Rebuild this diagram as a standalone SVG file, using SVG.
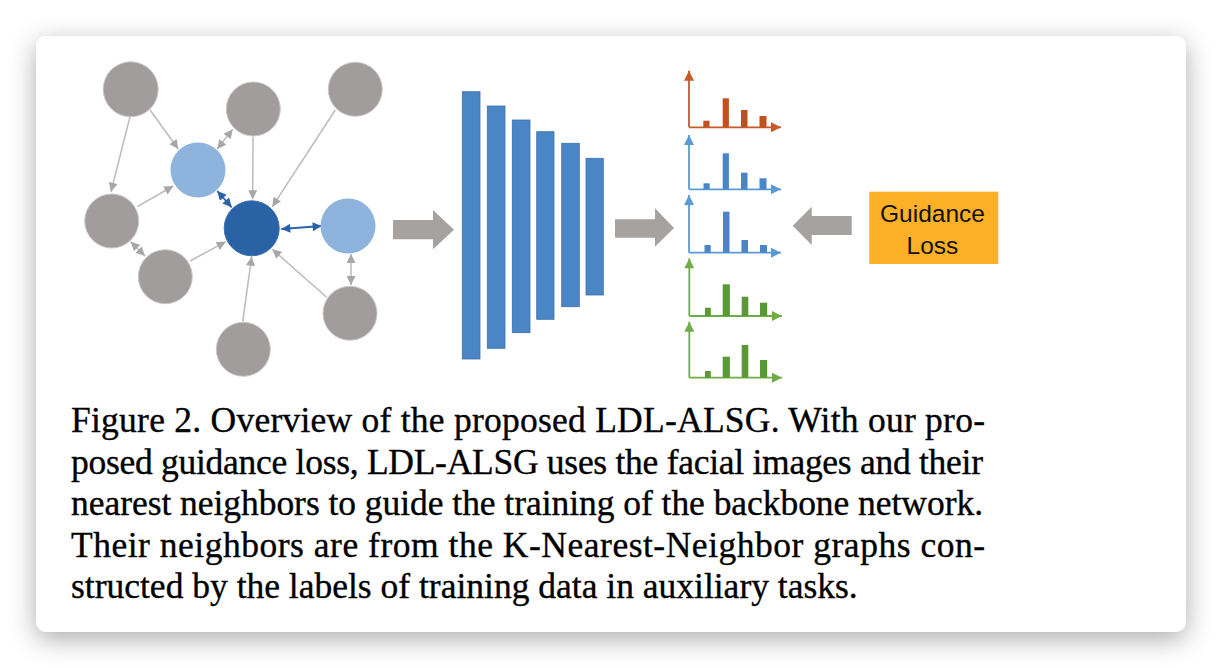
<svg xmlns="http://www.w3.org/2000/svg" width="1222" height="668" viewBox="0 0 1222 668">
<defs>
<filter id="shadow" x="-10%" y="-15%" width="120%" height="135%">
<feDropShadow dx="0" dy="7" stdDeviation="13" flood-color="#000" flood-opacity="0.33"/>
</filter>
<marker id="ag" viewBox="0 0 10 10" refX="10" refY="5" markerWidth="10" markerHeight="9" markerUnits="userSpaceOnUse" orient="auto-start-reverse"><path d="M0,0 L10,5 L0,10 Z" fill="#a9a6a6"/></marker>
<marker id="ab" viewBox="0 0 10 10" refX="10" refY="5" markerWidth="10" markerHeight="9" markerUnits="userSpaceOnUse" orient="auto-start-reverse"><path d="M0,0 L10,5 L0,10 Z" fill="#2a62a6"/></marker>
<marker id="mo" viewBox="0 0 10 10" refX="10" refY="5" markerWidth="11" markerHeight="10" markerUnits="userSpaceOnUse" orient="auto"><path d="M0,0 L10,5 L0,10 Z" fill="#c8592a"/></marker>
<marker id="mb" viewBox="0 0 10 10" refX="10" refY="5" markerWidth="11" markerHeight="10" markerUnits="userSpaceOnUse" orient="auto"><path d="M0,0 L10,5 L0,10 Z" fill="#5b9bd5"/></marker>
<marker id="mg" viewBox="0 0 10 10" refX="10" refY="5" markerWidth="11" markerHeight="10" markerUnits="userSpaceOnUse" orient="auto"><path d="M0,0 L10,5 L0,10 Z" fill="#70ad47"/></marker>
</defs>
<style>
.gray{fill:#a19d9d;stroke:#cbc9c9;stroke-width:1}
.lb{fill:#8eb4de}
.db{fill:#2a62a6;stroke:#3a6fae;stroke-width:1}
.e{stroke:#bdbbbb;stroke-width:1.5;fill:none}
.eb{stroke:#2a62a6;stroke-width:1.8;fill:none}
.bar{fill:#4a86c6;stroke:#3d70a8;stroke-width:0.8}
.big{fill:#a6a2a0}
.ax{fill:none;stroke-width:1.8}
.cap{font-family:"Liberation Serif","Times New Roman",serif;font-size:35.5px;fill:#000;stroke:#000;stroke-width:0.35}
.gl{font-family:"Liberation Sans",Arial,sans-serif;font-size:24.5px;fill:#111;text-anchor:middle}
</style>
<rect width="1222" height="668" fill="#ffffff"/>
<rect x="36" y="36" width="1150" height="596" rx="11" fill="#ffffff" filter="url(#shadow)"/>

<g id="connectors">
<line class="e" x1="150" y1="110" x2="178.3" y2="149" marker-end="url(#ag)"/>
<line class="e" x1="130" y1="116.7" x2="111" y2="191.7" marker-end="url(#ag)"/>
<line class="e" x1="232.7" y1="129.3" x2="217.3" y2="149" marker-start="url(#ag)" marker-end="url(#ag)"/>
<line class="e" x1="253" y1="136.7" x2="252.7" y2="199.3" marker-end="url(#ag)"/>
<line class="e" x1="335.3" y1="110" x2="272.3" y2="206.7" marker-end="url(#ag)"/>
<line class="e" x1="137.3" y1="206.7" x2="173.3" y2="186" marker-end="url(#ag)"/>
<line class="e" x1="130.7" y1="241.7" x2="145" y2="256" marker-start="url(#ag)" marker-end="url(#ag)"/>
<line class="e" x1="190" y1="261" x2="225.7" y2="241.7" marker-end="url(#ag)"/>
<line class="e" x1="242.7" y1="321.7" x2="251.7" y2="256.7" marker-end="url(#ag)"/>
<line class="e" x1="326.7" y1="297.3" x2="272.3" y2="249.3" marker-end="url(#ag)"/>
<line class="e" x1="351" y1="254" x2="351" y2="285" marker-start="url(#ag)" marker-end="url(#ag)"/>
<line class="eb" x1="217.3" y1="191" x2="231.7" y2="207.3" marker-start="url(#ab)" marker-end="url(#ab)"/>
<line class="eb" x1="281.3" y1="229" x2="321.7" y2="226" marker-start="url(#ab)" marker-end="url(#ab)"/>
</g>

<g id="node-a"><circle class="gray" cx="130.7" cy="89.3" r="27.5"/></g>
<g id="node-b"><circle class="gray" cx="253.3" cy="109" r="27"/></g>
<g id="node-c"><circle class="gray" cx="355.3" cy="89.3" r="27"/></g>
<g id="node-l1"><circle class="lb" cx="198" cy="170" r="27.5"/></g>
<g id="node-d"><circle class="gray" cx="111.7" cy="221" r="27"/></g>
<g id="node-center"><circle class="db" cx="251.7" cy="228.3" r="27.5"/></g>
<g id="node-l2"><circle class="lb" cx="348" cy="226" r="27.5"/></g>
<g id="node-e"><circle class="gray" cx="165.3" cy="276.7" r="27"/></g>
<g id="node-f"><circle class="gray" cx="243.3" cy="349.3" r="27"/></g>
<g id="node-g"><circle class="gray" cx="350" cy="313.3" r="27"/></g>

<g id="arrow-in"><path class="big" d="M393,220 H433 V210 L454,229.7 L433,249.3 V239.3 H393 Z"/></g>

<g id="backbone">
<rect class="bar" x="462.3" y="91.7" width="17.7" height="267.3"/>
<rect class="bar" x="487.3" y="106" width="17.7" height="242.3"/>
<rect class="bar" x="512.3" y="120" width="17.7" height="212.7"/>
<rect class="bar" x="536.7" y="131.7" width="17.3" height="187.6"/>
<rect class="bar" x="561.7" y="143.3" width="17.6" height="163.4"/>
<rect class="bar" x="586" y="158.3" width="17.3" height="136.7"/>
</g>

<g id="arrow-out"><path class="big" d="M615,219.3 H655 V208.3 L674,228 L655,246.7 V237.7 H615 Z"/></g>

<g id="chart-1" transform="translate(0,127.3)">
<path class="ax" stroke="#c8592a" d="M689,0 V-56.5" marker-end="url(#mo)"/>
<path class="ax" stroke="#c8592a" d="M689,0 H781" marker-end="url(#mo)"/>
<g fill="#c0501f"><rect x="703.3" y="-6.6" width="6.2" height="6.6"/><rect x="722.7" y="-29" width="6.2" height="29"/><rect x="741" y="-17.3" width="6.5" height="17.3"/><rect x="759.5" y="-11.3" width="7" height="11.3"/></g>
</g>
<g id="chart-2" transform="translate(0,189.3)">
<path class="ax" stroke="#5b9bd5" d="M689,0 V-54.3" marker-end="url(#mb)"/>
<path class="ax" stroke="#5b9bd5" d="M689,0 H781" marker-end="url(#mb)"/>
<g fill="#4a86c6"><rect x="703.5" y="-6" width="6.2" height="6"/><rect x="722.7" y="-36" width="6.2" height="36"/><rect x="741" y="-16.6" width="6.5" height="16.6"/><rect x="759.5" y="-11" width="7" height="11"/></g>
</g>
<g id="chart-3" transform="translate(0,252.7)">
<path class="ax" stroke="#5b9bd5" d="M689,0 V-57.7" marker-end="url(#mb)"/>
<path class="ax" stroke="#5b9bd5" d="M689,0 H781" marker-end="url(#mb)"/>
<g fill="#4a86c6"><rect x="704.5" y="-7.7" width="6.2" height="7.7"/><rect x="723" y="-41" width="6.5" height="41"/><rect x="741.5" y="-12.7" width="6.5" height="12.7"/><rect x="760" y="-7.7" width="7" height="7.7"/></g>
</g>
<g id="chart-4" transform="translate(0,316)">
<path class="ax" stroke="#70ad47" d="M689.3,0 V-57.7" marker-end="url(#mg)"/>
<path class="ax" stroke="#70ad47" d="M689.3,0 H782" marker-end="url(#mg)"/>
<g fill="#5a9a36"><rect x="705" y="-8.3" width="5.8" height="8.3"/><rect x="722.7" y="-31.7" width="7.2" height="31.7"/><rect x="741.7" y="-19.3" width="6.6" height="19.3"/><rect x="760" y="-13.3" width="7.2" height="13.3"/></g>
</g>
<g id="chart-5" transform="translate(0,377.7)">
<path class="ax" stroke="#70ad47" d="M689.3,0 V-56" marker-end="url(#mg)"/>
<path class="ax" stroke="#70ad47" d="M689.3,0 H782" marker-end="url(#mg)"/>
<g fill="#5a9a36"><rect x="705" y="-6.7" width="5.8" height="6.7"/><rect x="722.7" y="-21" width="7.2" height="21"/><rect x="741.7" y="-32.7" width="6.6" height="32.7"/><rect x="760" y="-17.7" width="7.2" height="17.7"/></g>
</g>

<g id="arrow-guidance"><path class="big" d="M851.7,216 H811.7 V206.7 L792.7,225.8 L811.7,245 V235 H851.7 Z"/></g>

<g id="guidance-loss">
<rect x="869.3" y="191.7" width="129" height="72.3" fill="#fbb026"/>
<text class="gl" x="932.5" y="221.7">Guidance</text>
<text class="gl" x="932.5" y="254">Loss</text>
</g>

<g id="caption">
<text class="cap" x="71" y="432" textLength="914" lengthAdjust="spacing">Figure 2. Overview of the proposed LDL-ALSG. With our pro-</text>
<text class="cap" x="71" y="473.5" textLength="912" lengthAdjust="spacing">posed guidance loss, LDL-ALSG uses the facial images and their</text>
<text class="cap" x="71" y="515" textLength="912" lengthAdjust="spacing">nearest neighbors to guide the training of the backbone network.</text>
<text class="cap" x="71" y="556.5" textLength="914" lengthAdjust="spacing">Their neighbors are from the K-Nearest-Neighbor graphs con-</text>
<text class="cap" x="71" y="598">structed by the labels of training data in auxiliary tasks.</text>
</g>
</svg>
